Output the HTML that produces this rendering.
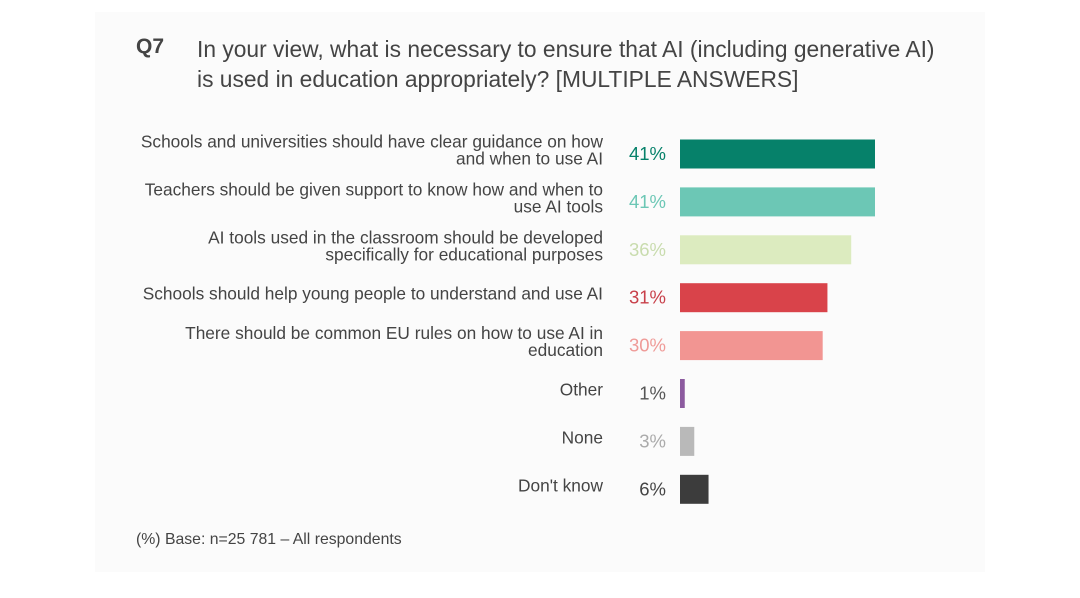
<!DOCTYPE html>
<html><head><meta charset="utf-8"><style>
body{margin:0;width:1080px;height:598px;background:#fff;font-family:"Liberation Sans",sans-serif;overflow:hidden}
#panel{position:absolute;left:95px;top:12px;width:890px;height:560px;background:#fbfbfb}
.t{position:absolute;color:#333;white-space:nowrap}
</style></head><body>
<div id="panel"></div>
<div class="t" style="left:136px;top:35px;font-size:21px;font-weight:bold;color:#444">Q7</div>
<div class="t" style="left:197px;top:34px;font-size:22.8px;line-height:30px;color:#444">In your view, what is necessary to ensure that AI (including generative AI)<br>is used in education appropriately? [MULTIPLE ANSWERS]</div>
<svg id="chart" width="1080" height="598" style="position:absolute;left:0;top:0"></svg>
<div class="t" style="left:136px;top:531px;font-size:15.8px;color:#444">(%) Base: n=25 781 – All respondents</div>
<script>
const categories=[["Schools and universities should have clear guidance on how","and when to use AI"],["Teachers should be given support to know how and when to","use AI tools"],["AI tools used in the classroom should be developed","specifically for educational purposes"],["Schools should help young people to understand and use AI"],["There should be common EU rules on how to use AI in","education"],["Other"],["None"],["Don't know"]];
const values=[41,41,36,31,30,1,3,6];
const barColors=["#06816a","#6cc7b5","#dcebbf","#d9434a","#f29592","#8c5b9f","#b9b9b9","#3c3c3c"];
const labelColors=["#06816a","#6cc7b5","#c9dcae","#c8404a","#ef9b98","#555","#aaa","#444"];
const svg=document.getElementById('chart');
const NS="http://www.w3.org/2000/svg";
const x0=680,pxPer=195/41,y0=154,step=47.9,bh=29;
const xs=v=>v*pxPer, yc=i=>y0+i*step;
values.forEach((v,i)=>{
  const r=document.createElementNS(NS,'rect');
  r.setAttribute('x',x0);r.setAttribute('y',yc(i)-bh/2);r.setAttribute('width',xs(v));r.setAttribute('height',bh);r.setAttribute('fill',barColors[i]);
  
  
  svg.appendChild(r);
  const p=document.createElementNS(NS,'text');
  p.setAttribute('x',666);p.setAttribute('y',yc(i)+6);p.setAttribute('text-anchor','end');p.setAttribute('font-size','18.5');p.setAttribute('fill',labelColors[i]);
  p.textContent=v+'%';
  
  
  svg.appendChild(p);
  const lines=categories[i];
  const t=document.createElementNS(NS,'text');
  t.setAttribute('text-anchor','end');t.setAttribute('font-size','17.3');t.setAttribute('fill','#444');
  
  
  lines.forEach((l,j)=>{
    const s=document.createElementNS(NS,'tspan');
    s.setAttribute('x',603);
    s.setAttribute('y',yc(i)+2+(j-(lines.length-1)/2)*17);
    s.textContent=l;t.appendChild(s);
  });
  svg.appendChild(t);
});
</script>
</body></html>
